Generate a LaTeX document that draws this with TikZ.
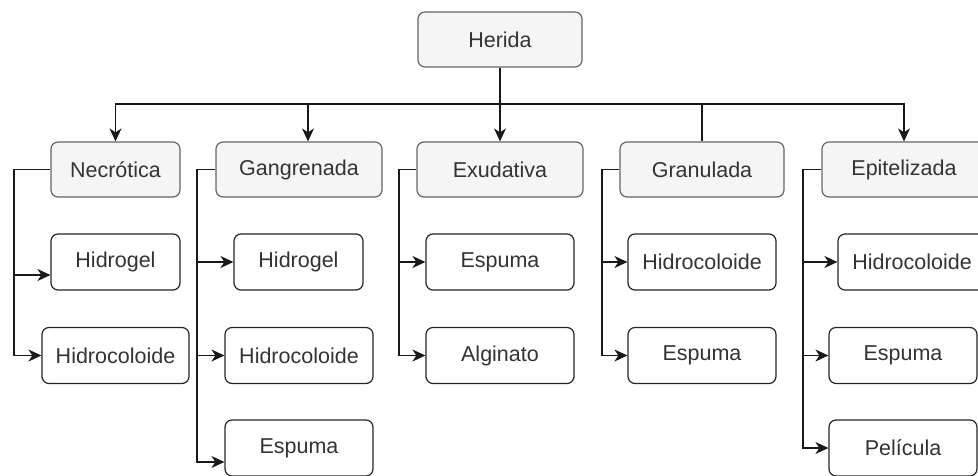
\documentclass[tikz,border=0pt]{standalone}
\usepackage{fontspec}
\setmainfont{Liberation Sans}
\usetikzlibrary{arrows.meta}
\definecolor{catfill}{HTML}{F5F5F5}
\definecolor{catline}{HTML}{666666}
\definecolor{txtgray}{HTML}{333333}
\begin{document}
\begin{tikzpicture}[x=1pt,y=-1pt,
    catbox/.style={draw=catline,fill=catfill,rounded corners=7pt,line width=1.2pt,
      text=txtgray,minimum height=55pt,inner sep=0pt},
    itembox/.style={draw=black!85,fill=white,rounded corners=7pt,line width=1.2pt,
      text=txtgray,minimum height=56pt,minimum width=148pt,inner sep=0pt},
    link/.style={line width=1.3pt,black!90},
    arr/.style={link,-{Stealth[length=13pt,width=12pt,inset=4pt]}},
    font=\fontsize{21.5pt}{26pt}\selectfont]
    \useasboundingbox (0,0) rectangle (978,475);

    % root and wound types
    \node[catbox,minimum width=164pt] (herida) at (500,39.5){Herida};

    \node[catbox,minimum width=129pt] (necrotica) at (115.5,169.5){Necrótica};
    \node[catbox,minimum width=166pt] (gangrenada) at (299,169.5){Gangrenada};
    \node[catbox,minimum width=166pt] (exudativa) at (500,169.5){Exudativa};
    \node[catbox,minimum width=164pt] (granulada) at (702,169.5){Granulada};
    \node[catbox,minimum width=164pt] (epitelizada) at (904,169.5){Epitelizada};

    % dressings
    \node[itembox,minimum width=129pt] (necHidrogel) at (115.5,262){Hidrogel};
    \node[itembox,minimum width=147pt] (necHidrocoloide) at (115.5,355.5){Hidrocoloide};

    \node[itembox,minimum width=129pt] (ganHidrogel) at (298.5,262){Hidrogel};
    \node[itembox] (ganHidrocoloide) at (299,355.5){Hidrocoloide};
    \node[itembox] (ganEspuma) at (299,448){Espuma};

    \node[itembox] (exuEspuma) at (500,262){Espuma};
    \node[itembox] (exuAlginato) at (500,355.5){Alginato};

    \node[itembox] (graHidrocoloide) at (702,262){Hidrocoloide};
    \node[itembox] (graEspuma) at (702,355.5){Espuma};

    \node[itembox] (epiHidrocoloide) at (912,262){Hidrocoloide};
    \node[itembox] (epiEspuma) at (903,355.5){Espuma};
    \node[itembox] (epiPelicula) at (903,448){Película};

    % top bus
    \coordinate (bus) at (500,104);
    \draw[arr] (herida.south) -- (exudativa.north);
    \draw[arr] (bus) -| (necrotica.north);
    \draw[arr] (bus) -| ([xshift=9pt]gangrenada.north);
    \draw[link] (bus) -| (granulada.north);
    \draw[arr] (bus) -| (epitelizada.north);

    % side branches
    \coordinate (necSide) at (14,169.5);
    \draw[arr] (necrotica.west) -- (necSide) |- ([yshift=-13pt]necHidrogel.west);
    \draw[arr] (necSide) |- (necHidrocoloide.west);

    \coordinate (ganSide) at (197,169.5);
    \draw[arr] (gangrenada.west) -- (ganSide) |- (ganHidrogel.west);
    \draw[arr] (ganSide) |- (ganHidrocoloide.west);
    \draw[arr] (ganSide) |- ([yshift=-14pt]ganEspuma.west);

    \coordinate (exuSide) at (399,169.5);
    \draw[arr] (exudativa.west) -- (exuSide) |- (exuEspuma.west);
    \draw[arr] (exuSide) |- (exuAlginato.west);

    \coordinate (graSide) at (602,169.5);
    \draw[arr] (granulada.west) -- (graSide) |- (graHidrocoloide.west);
    \draw[arr] (graSide) |- (graEspuma.west);

    \coordinate (epiSide) at (803,169.5);
    \draw[arr] (epitelizada.west) -- (epiSide) |- (epiHidrocoloide.west);
    \draw[arr] (epiSide) |- (epiEspuma.west);
    \draw[arr] (epiSide) |- (epiPelicula.west);
  \end{tikzpicture}
\end{document}
